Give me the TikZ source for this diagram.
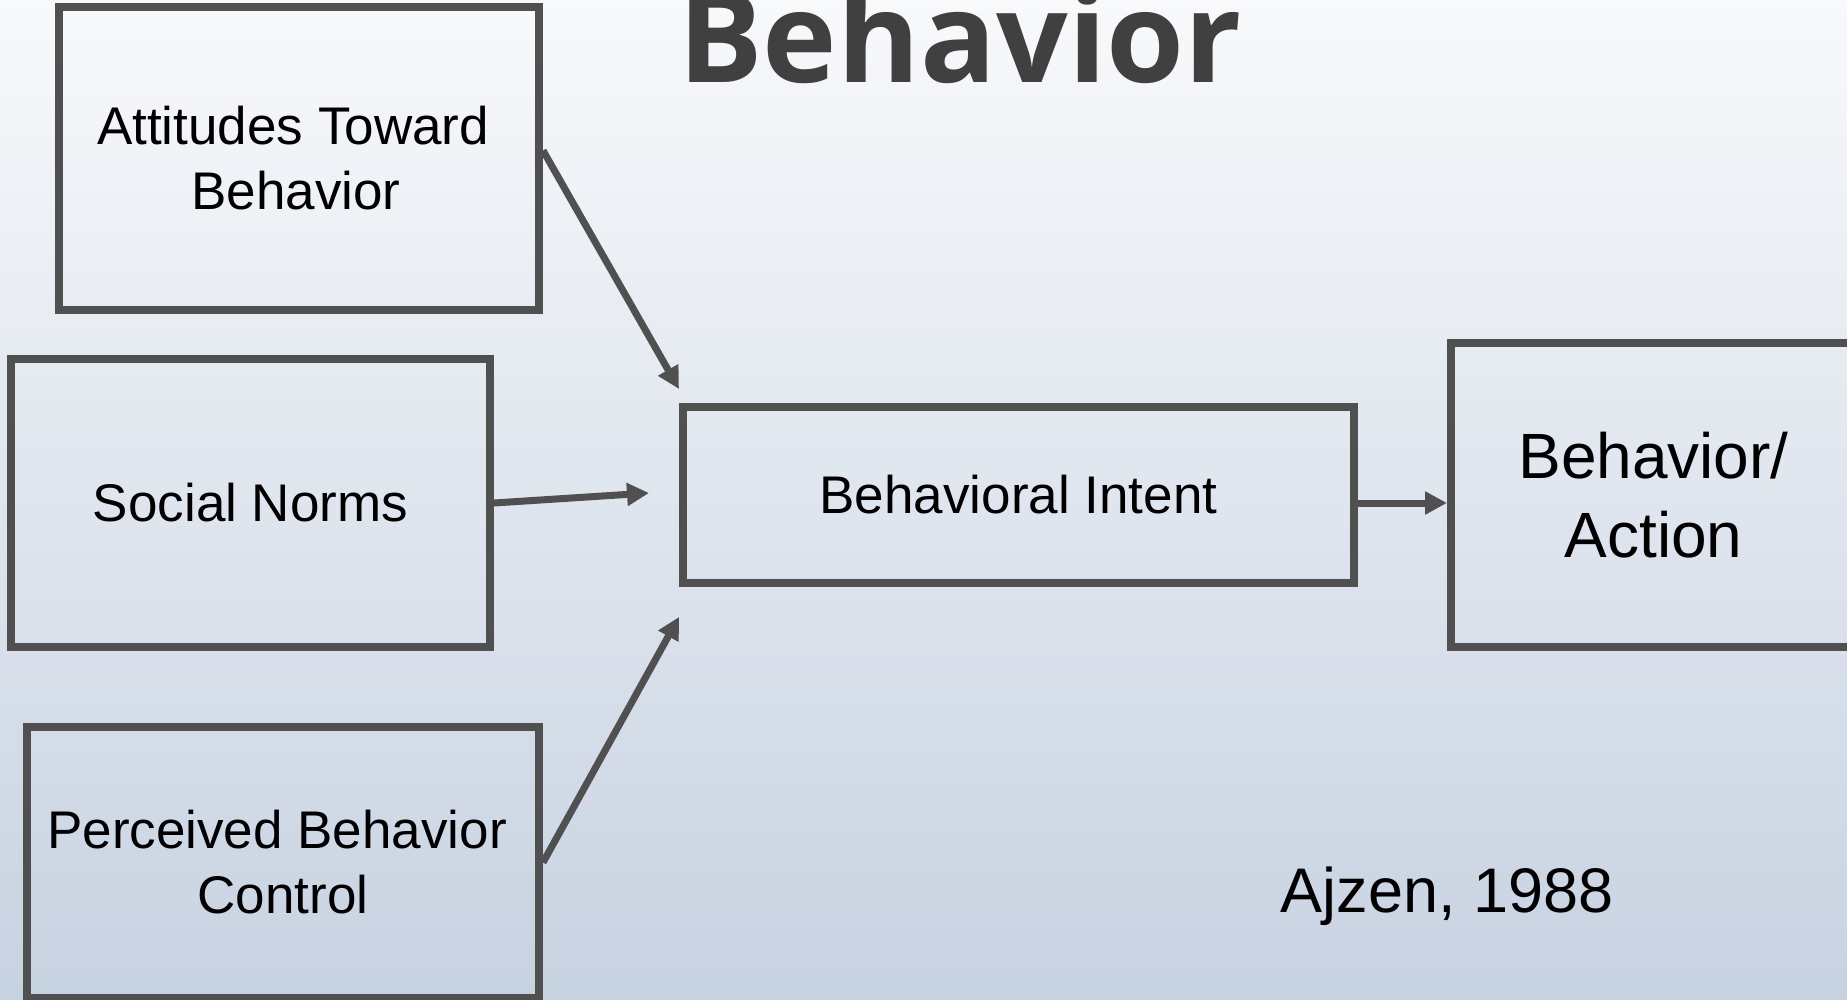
\documentclass[tikz,border=0pt]{standalone}
\usepackage{fontspec}
\setmainfont{Liberation Sans}
\newfontfamily\titlefont{Open Sans}
\usetikzlibrary{arrows.meta}

\definecolor{bgtop}{HTML}{F8F9FB}
\definecolor{bgbottom}{HTML}{C7D2E1}
\definecolor{edgegray}{HTML}{505050}
\definecolor{titlegray}{HTML}{404040}

\tikzset{
  factor/.style={draw=edgegray, line width=4pt, rectangle, inner sep=0pt,
    align=center, text=black, font=\fontsize{26.5}{32.5}\selectfont},
  bigfactor/.style={factor, font=\fontsize{32}{39.5}\selectfont},
  link/.style={draw=edgegray, line width=3.5pt,
    -{Triangle[length=11pt,width=11pt]}},
}

\begin{document}
\begin{tikzpicture}[x=0.5pt,y=-0.5pt]
  \clip (0,0) rectangle (1847,1000);
  \shade[top color=bgtop, bottom color=bgbottom] (0,0) rectangle (1847,1000);

  % heading, partly above the top edge
  \node[anchor=base, text=titlegray, inner sep=0pt,
        font=\titlefont\bfseries\fontsize{63}{70}\selectfont] (title) at (960,83) {Behavior};

  % factors
  \node[factor, minimum width=240pt, minimum height=151.5pt] (att) at (299,158.5)
    {\hspace*{-6pt}Attitudes Toward\\\hspace*{-3pt}Behavior};
  \node[factor, minimum width=239.5pt, minimum height=144pt] (sn) at (250.5,503)
    {Social Norms};
  \node[factor, minimum width=256pt, minimum height=135.5pt] (pbc) at (283,862.5)
    {\hspace*{-6pt}Perceived Behavior\\Control};
  \node[factor, minimum width=335.5pt, minimum height=88pt] (bi) at (1018.5,495)
    {Behavioral Intent};
  \node[bigfactor, minimum width=202.5pt, minimum height=152pt] (ba) at (1653.5,495)
    {Behavior/\\Action};

  % citation
  \node[anchor=base, inner sep=0pt, font=\fontsize{31.5}{38}\selectfont] (cite) at (1447,912)
    {Ajzen, 1988};

  % influences
  \draw[link] ([yshift=4pt]att.east) -- ([yshift=7pt]bi.north west);
  \draw[link] (sn.east) -- ([xshift=-15pt,yshift=1pt]bi.west);
  \draw[link] (pbc.east) -- ([yshift=-15pt]bi.south west);
  \draw[link] ([yshift=-4pt]bi.east) -- ([yshift=-4pt]ba.west);
\end{tikzpicture}
\end{document}
